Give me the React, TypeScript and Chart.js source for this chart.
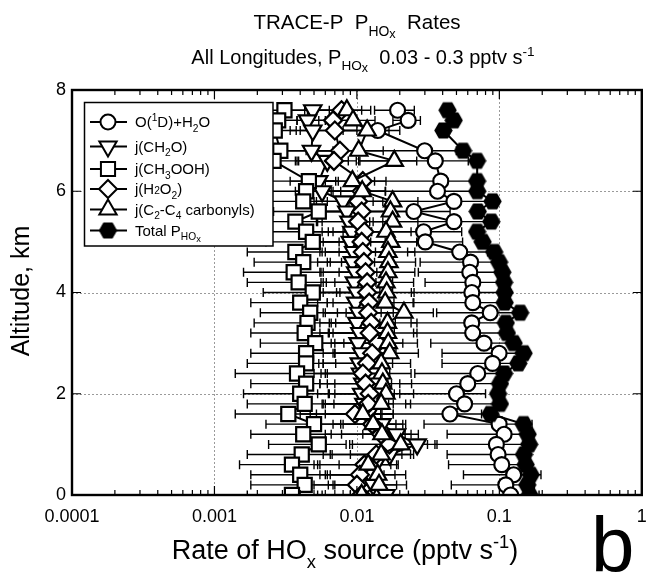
import React, { useEffect, useRef } from 'react';
import { Chart, registerables } from 'chart.js';

Chart.register(...registerables);

const FONT = '"Liberation Sans", Arial, Helvetica, sans-serif';

// Altitude levels (km), top to bottom (no data at 7.0 and 6.4 km)
const ALTITUDE = [7.6, 7.4, 7.2, 6.8, 6.6, 6.2, 6.0, 5.8, 5.6, 5.4, 5.2, 5.0, 4.8, 4.6, 4.4, 4.2, 4.0, 3.8, 3.6, 3.4, 3.2, 3.0, 2.8, 2.6, 2.4, 2.2, 2.0, 1.8, 1.6, 1.4, 1.2, 1.0, 0.8, 0.6, 0.4, 0.2, 0.0];

// O(1D)+H2O
const O1D_H2O = [0.0193, 0.0229, 0.0140, 0.0299, 0.0355, 0.0388, 0.0368, 0.048, 0.0251, 0.048, 0.0294, 0.0302, 0.0527, 0.0628, 0.062, 0.0651, 0.0641, 0.0651, 0.0863, 0.064, 0.065, 0.078, 0.0996, 0.0896, 0.0705, 0.060, 0.050, 0.057, 0.045, 0.0996, 0.108, 0.0953, 0.098, 0.104, 0.126, 0.111, 0.12];
const O1D_H2O_ERR = [0.006, 0.005, 0.006, 0.02, 0.025, 0.03, 0.03, 0.035, 0.02, 0.035, 0.025, 0.025, 0.03, 0.035, 0.035, 0.035, 0.04, 0.04, 0.05, 0.04, 0.04, 0.045, 0.06, 0.05, 0.045, 0.04, 0.03, 0.035, 0.03, 0.07, 0.065, 0.06, 0.055, 0.06, 0.07, 0.065, 0.07];

// j(CH2O)
const J_CH2O = [0.0049, 0.0045, 0.0049, 0.0048, 0.0062, 0.0054, 0.0057, 0.0080, 0.0085, 0.0088, 0.0092, 0.0090, 0.0095, 0.0093, 0.0098, 0.0096, 0.0100, 0.0098, 0.0103, 0.0100, 0.0105, 0.0102, 0.0108, 0.0104, 0.0106, 0.0110, 0.0108, 0.0112, 0.0120, 0.0150, 0.0190, 0.0265, 0.0170, 0.0135, 0.0125, 0.0130, 0.0160];
const J_CH2O_ERR = [0.0015, 0.0015, 0.0015, 0.002, 0.0025, 0.002, 0.002, 0.003, 0.003, 0.0035, 0.0035, 0.0035, 0.004, 0.004, 0.004, 0.004, 0.0045, 0.0045, 0.0045, 0.0045, 0.005, 0.005, 0.005, 0.005, 0.005, 0.0055, 0.0055, 0.0055, 0.006, 0.007, 0.008, 0.010, 0.008, 0.006, 0.006, 0.006, 0.007];

// j(CH3OOH)
const J_CH3OOH = [0.0031, 0.0028, 0.00265, 0.0029, 0.0026, 0.0046, 0.0044, 0.0042, 0.0054, 0.0037, 0.0044, 0.0049, 0.0037, 0.0042, 0.0036, 0.0039, 0.0049, 0.0040, 0.0047, 0.0045, 0.0043, 0.0051, 0.0044, 0.0044, 0.0038, 0.0044, 0.0040, 0.0043, 0.0033, 0.0050, 0.0042, 0.0054, 0.0041, 0.0035, 0.0040, 0.0043, 0.0035];
const J_CH3OOH_ERR = [0.0012, 0.0010, 0.0011, 0.0015, 0.0012, 0.0025, 0.0022, 0.0020, 0.0028, 0.0020, 0.0024, 0.0026, 0.0020, 0.0023, 0.0020, 0.0022, 0.0027, 0.0022, 0.0026, 0.0026, 0.0025, 0.0030, 0.0026, 0.0027, 0.0024, 0.0026, 0.0024, 0.0026, 0.0019, 0.0027, 0.0024, 0.0030, 0.0024, 0.0020, 0.0022, 0.0025, 0.0018];

// j(H2O2)
const J_H2O2 = [0.0078, 0.0068, 0.0070, 0.0076, 0.0069, 0.0110, 0.0108, 0.0102, 0.0108, 0.0102, 0.0113, 0.0108, 0.0110, 0.0112, 0.0115, 0.0118, 0.0118, 0.0122, 0.0120, 0.0126, 0.0123, 0.0140, 0.0128, 0.0118, 0.0110, 0.0115, 0.0123, 0.0120, 0.0097, 0.0128, 0.0148, 0.0169, 0.0137, 0.0113, 0.0105, 0.0100, 0.0107];
const J_H2O2_ERR = [0.003, 0.003, 0.003, 0.003, 0.003, 0.005, 0.005, 0.005, 0.005, 0.005, 0.005, 0.005, 0.005, 0.005, 0.006, 0.006, 0.006, 0.006, 0.006, 0.006, 0.006, 0.007, 0.006, 0.006, 0.006, 0.006, 0.006, 0.006, 0.005, 0.006, 0.007, 0.008, 0.007, 0.006, 0.005, 0.005, 0.005];

// j(C2-C4 carbonyls)
const J_CARB = [0.0085, 0.0094, 0.0118, 0.0103, 0.0183, 0.0093, 0.0109, 0.0178, 0.0172, 0.0178, 0.0160, 0.0173, 0.0165, 0.0168, 0.0165, 0.0160, 0.0162, 0.0158, 0.0214, 0.0164, 0.0164, 0.0166, 0.0170, 0.0148, 0.0150, 0.0152, 0.0160, 0.0148, 0.0110, 0.0130, 0.0150, 0.0203, 0.0148, 0.0120, 0.0140, 0.0143, 0.0108];
const J_CARB_ERR = [0.004, 0.004, 0.005, 0.005, 0.008, 0.004, 0.005, 0.009, 0.009, 0.009, 0.008, 0.009, 0.009, 0.009, 0.009, 0.009, 0.009, 0.009, 0.013, 0.010, 0.010, 0.010, 0.010, 0.009, 0.009, 0.009, 0.009, 0.009, 0.007, 0.008, 0.009, 0.011, 0.009, 0.007, 0.008, 0.008, 0.007];

// Total P(HOx)
const TOTAL = [0.0433, 0.0478, 0.0405, 0.0556, 0.0698, 0.0698, 0.070, 0.0896, 0.0705, 0.0878, 0.0698, 0.0763, 0.092, 0.0996, 0.105, 0.108, 0.109, 0.109, 0.140, 0.111, 0.113, 0.126, 0.148, 0.136, 0.108, 0.101, 0.098, 0.101, 0.0865, 0.148, 0.158, 0.162, 0.149, 0.153, 0.166, 0.157, 0.163];

const X_TICKS = [0.0001, 0.001, 0.01, 0.1, 1];
const X_TICK_LABELS = ['0.0001', '0.001', '0.01', '0.1', '1'];
const X_GRID = [0.001, 0.01, 0.1];
const Y_TICKS = [0, 2, 4, 6, 8];
const Y_TICK_LABELS = ['0', '2', '4', '6', '8'];
const Y_GRID = [2, 4, 6];

type Seg = { t: string; s?: 'sub' | 'sup' | 'subsub' | 'small' };

function segFont(size: number, s?: string) {
  if (!s) return size;
  if (s === 'subsub') return size * 0.62;
  return size * 0.68;
}
function segDy(size: number, s?: string) {
  if (s === 'sub') return size * 0.32;
  if (s === 'subsub') return size * 0.42;
  if (s === 'sup') return -size * 0.4;
  return 0;
}
function drawRich(g: CanvasRenderingContext2D, segs: Seg[], x: number, y: number, size: number, align: 'left' | 'center') {
  let total = 0;
  const widths = segs.map((sg) => {
    g.font = `${segFont(size, sg.s)}px ${FONT}`;
    const w = g.measureText(sg.t).width;
    total += w;
    return w;
  });
  let cx = align === 'center' ? x - total / 2 : x;
  g.textAlign = 'left';
  g.textBaseline = 'alphabetic';
  segs.forEach((sg, i) => {
    g.font = `${segFont(size, sg.s)}px ${FONT}`;
    g.fillText(sg.t, cx, y + segDy(size, sg.s));
    cx += widths[i];
  });
}

function hexPath(g: CanvasRenderingContext2D, cx: number, cy: number, r: number) {
  g.beginPath();
  for (let i = 0; i < 6; i++) {
    const a = (Math.PI / 3) * i;
    const px = cx + r * Math.cos(a);
    const py = cy + r * Math.sin(a);
    if (i === 0) g.moveTo(px, py);
    else g.lineTo(px, py);
  }
  g.closePath();
}

function makeHex(size: number) {
  const c = document.createElement('canvas');
  c.width = size;
  c.height = size;
  const g = c.getContext('2d')!;
  hexPath(g, size / 2, size / 2, size / 2 - 0.3);
  g.fillStyle = '#000';
  g.fill();
  return c;
}

function drawMarker(g: CanvasRenderingContext2D, kind: string, x: number, y: number, hex: HTMLCanvasElement) {
  g.save();
  g.lineWidth = 2;
  g.strokeStyle = '#000';
  g.fillStyle = '#fff';
  g.beginPath();
  if (kind === 'circle') {
    g.arc(x, y, 7.5, 0, Math.PI * 2);
  } else if (kind === 'tri' || kind === 'tridown') {
    const r = 10;
    const sgn = kind === 'tri' ? 1 : -1;
    g.moveTo(x, y - sgn * r);
    g.lineTo(x + r * Math.sin((2 * Math.PI) / 3), y - sgn * r * Math.cos((2 * Math.PI) / 3));
    g.lineTo(x + r * Math.sin((4 * Math.PI) / 3), y - sgn * r * Math.cos((4 * Math.PI) / 3));
    g.closePath();
  } else if (kind === 'rect') {
    const s = 10 * Math.SQRT1_2;
    g.rect(x - s, y - s, 2 * s, 2 * s);
  } else if (kind === 'diamond') {
    const r = 9;
    g.moveTo(x, y - r);
    g.lineTo(x + r, y);
    g.lineTo(x, y + r);
    g.lineTo(x - r, y);
    g.closePath();
  }
  if (kind === 'hex') {
    g.drawImage(hex, x - hex.width / 2, y - hex.height / 2);
  } else {
    g.fill();
    g.stroke();
  }
  g.restore();
}

const LEGEND: { kind: string; label: Seg[]; y: number }[] = [
  { kind: 'circle', y: 122, label: [{ t: 'O(' }, { t: '1', s: 'sup' }, { t: 'D)+H' }, { t: '2', s: 'sub' }, { t: 'O' }] },
  { kind: 'tridown', y: 146.5, label: [{ t: 'j(CH' }, { t: '2', s: 'sub' }, { t: 'O)' }] },
  { kind: 'rect', y: 169, label: [{ t: 'j(CH' }, { t: '3', s: 'sub' }, { t: 'OOH)' }] },
  { kind: 'diamond', y: 189, label: [{ t: 'j(H' }, { t: '2', s: 'small' }, { t: 'O' }, { t: '2', s: 'sub' }, { t: ')' }] },
  { kind: 'tri', y: 209.5, label: [{ t: 'j(C' }, { t: '2', s: 'sub' }, { t: '-C' }, { t: '4', s: 'sub' }, { t: ' carbonyls)' }] },
  { kind: 'hex', y: 230.5, label: [{ t: 'Total P' }, { t: 'HO', s: 'sub' }, { t: 'x', s: 'subsub' }] },
];

export default function App() {
  const ref = useRef<HTMLCanvasElement | null>(null);

  useEffect(() => {
    if (!ref.current) return;
    const hex = makeHex(19);
    const pts = (vals: number[]) => ALTITUDE.map((a, i) => ({ x: vals[i], y: a }));
    const base = {
      showLine: true,
      borderColor: '#000',
      borderWidth: 2,
      pointBackgroundColor: '#fff',
      pointBorderColor: '#000',
      pointBorderWidth: 2.2,
      pointHoverRadius: 0,
    };

    const plugin = {
      id: 'phox',
      beforeDraw(chart: any) {
        const g = chart.ctx;
        g.save();
        g.fillStyle = '#fff';
        g.fillRect(0, 0, chart.width, chart.height);
        g.restore();
      },
      beforeDatasetsDraw(chart: any) {
        const g: CanvasRenderingContext2D = chart.ctx;
        const ca = chart.chartArea;
        const xs = chart.scales.x;
        const ys = chart.scales.y;
        g.save();
        g.strokeStyle = '#9a9a9a';
        g.lineWidth = 1;
        g.setLineDash([2, 2]);
        X_GRID.forEach((v) => {
          const px = Math.round(xs.getPixelForValue(v)) + 0.5;
          g.beginPath();
          g.moveTo(px, ca.top);
          g.lineTo(px, ca.bottom);
          g.stroke();
        });
        Y_GRID.forEach((v) => {
          const py = Math.round(ys.getPixelForValue(v)) + 0.5;
          g.beginPath();
          g.moveTo(ca.left, py);
          g.lineTo(ca.right, py);
          g.stroke();
        });
        g.setLineDash([]);
        g.beginPath();
        g.rect(ca.left, ca.top, ca.right - ca.left, ca.bottom - ca.top);
        g.clip();
        g.strokeStyle = '#000';
        g.lineWidth = 1.4;
        chart.data.datasets.forEach((ds: any) => {
          const err: number[] | undefined = ds.errors;
          if (!err) return;
          ds.data.forEach((p: any, i: number) => {
            const s = err[i];
            if (s == null || p.x == null) return;
            const lo = p.x - s;
            const hi = p.x + s;
            const py = ys.getPixelForValue(p.y);
            const x1 = lo > 0 ? xs.getPixelForValue(lo) : ca.left - 5;
            const x2 = xs.getPixelForValue(hi);
            g.beginPath();
            g.moveTo(x1, py);
            g.lineTo(x2, py);
            if (lo > 0) {
              g.moveTo(x1, py - 4.5);
              g.lineTo(x1, py + 4.5);
            }
            g.moveTo(x2, py - 4.5);
            g.lineTo(x2, py + 4.5);
            g.stroke();
          });
        });
        g.restore();
      },
      afterDatasetsDraw(chart: any) {
        const g: CanvasRenderingContext2D = chart.ctx;
        const ca = chart.chartArea;
        const xs = chart.scales.x;
        const ys = chart.scales.y;
        g.save();
        g.strokeStyle = '#000';
        g.lineWidth = 1.2;
        for (let e = -4; e <= 0; e++) {
          for (let m = 1; m <= 9; m++) {
            const v = m * Math.pow(10, e);
            if (v > 1.0000001) continue;
            const px = xs.getPixelForValue(v);
            const len = m === 1 ? 9 : 5;
            g.beginPath();
            g.moveTo(px, ca.bottom);
            g.lineTo(px, ca.bottom - len);
            g.moveTo(px, ca.top);
            g.lineTo(px, ca.top + len);
            g.stroke();
          }
        }
        Y_TICKS.forEach((v) => {
          const py = ys.getPixelForValue(v);
          g.beginPath();
          g.moveTo(ca.left, py);
          g.lineTo(ca.left + 9, py);
          g.moveTo(ca.right, py);
          g.lineTo(ca.right - 9, py);
          g.stroke();
        });
        g.lineWidth = 2.4;
        g.strokeRect(ca.left, ca.top, ca.right - ca.left, ca.bottom - ca.top);
        g.restore();
      },
      afterDraw(chart: any) {
        const g: CanvasRenderingContext2D = chart.ctx;
        g.save();
        g.fillStyle = '#000';
        drawRich(g, [{ t: 'TRACE-P  P' }, { t: 'HO', s: 'sub' }, { t: 'x', s: 'subsub' }, { t: '  Rates' }], 357, 29, 20.5, 'center');
        drawRich(
          g,
          [{ t: 'All Longitudes, P' }, { t: 'HO', s: 'sub' }, { t: 'x', s: 'subsub' }, { t: '  0.03 - 0.3 pptv s' }, { t: '-1', s: 'sup' }],
          363,
          64,
          20,
          'center'
        );
        drawRich(g, [{ t: 'Rate of HO' }, { t: 'x', s: 'sub' }, { t: ' source (pptv s' }, { t: '-1', s: 'sup' }, { t: ')' }], 345, 559, 27, 'center');
        g.save();
        g.translate(22, 291);
        g.rotate(-Math.PI / 2);
        g.font = `25px ${FONT}`;
        g.textAlign = 'center';
        g.textBaseline = 'middle';
        g.fillText('Altitude, km', 0, 0);
        g.restore();
        g.font = `78px ${FONT}`;
        g.textAlign = 'left';
        g.textBaseline = 'alphabetic';
        g.fillText('b', 591, 572);
        g.fillStyle = '#fff';
        g.fillRect(84, 102, 189, 144);
        g.strokeStyle = '#000';
        g.lineWidth = 1.5;
        g.strokeRect(84.5, 102.5, 188.5, 143.5);
        LEGEND.forEach((it) => {
          g.strokeStyle = '#000';
          g.lineWidth = 2;
          g.beginPath();
          g.moveTo(90, it.y);
          g.lineTo(127, it.y);
          g.stroke();
          drawMarker(g, it.kind, 108, it.y, hex);
          g.fillStyle = '#000';
          drawRich(g, it.label, 135, it.y + 5, 15, 'left');
        });
        g.restore();
      },
    };

    const chart = new Chart(ref.current, {
      type: 'scatter',
      data: {
        datasets: [
          { ...base, label: 'O(1D)+H2O', data: pts(O1D_H2O), errors: O1D_H2O_ERR, pointStyle: 'circle', pointRadius: 7.5, order: 5 } as any,
          { ...base, label: 'j(CH2O)', data: pts(J_CH2O), errors: J_CH2O_ERR, pointStyle: 'triangle', pointRotation: 180, pointRadius: 10, order: 4 } as any,
          { ...base, label: 'j(CH3OOH)', data: pts(J_CH3OOH), errors: J_CH3OOH_ERR, pointStyle: 'rect', pointRadius: 10, order: 3 } as any,
          { ...base, label: 'j(H2O2)', data: pts(J_H2O2), errors: J_H2O2_ERR, pointStyle: 'rectRot', pointRadius: 9, order: 2 } as any,
          { ...base, label: 'j(C2-C4 carbonyls)', data: pts(J_CARB), errors: J_CARB_ERR, pointStyle: 'triangle', pointRadius: 10, order: 1 } as any,
          { ...base, label: 'Total PHOx', data: pts(TOTAL), pointStyle: hex, pointRadius: 9, pointBackgroundColor: '#000', order: 0 } as any,
        ],
      },
      options: {
        animation: false,
        responsive: false,
        devicePixelRatio: 1,
        layout: { padding: { top: 90, right: 2, bottom: 0, left: 0 } },
        plugins: { legend: { display: false }, tooltip: { enabled: false }, title: { display: false } },
        events: [],
        scales: {
          x: {
            type: 'logarithmic',
            min: 0.0001,
            max: 1,
            position: 'bottom',
            grid: { display: false, drawTicks: false },
            border: { display: false },
            afterBuildTicks: (scale: any) => {
              scale.ticks = X_TICKS.map((v) => ({ value: v, major: true }));
            },
            afterFit: (scale: any) => {
              scale.height = 79;
              scale.paddingLeft = 0;
              scale.paddingRight = 0;
            },
            ticks: {
              autoSkip: false,
              maxRotation: 0,
              padding: 11,
              color: '#000',
              font: { family: FONT, size: 18 },
              callback: (v: any) => {
                const i = X_TICKS.findIndex((t) => Math.abs(Math.log10(t) - Math.log10(Number(v))) < 1e-6);
                return i >= 0 ? X_TICK_LABELS[i] : '';
              },
            },
          },
          y: {
            type: 'linear',
            min: 0,
            max: 8,
            grid: { display: false, drawTicks: false },
            border: { display: false },
            afterBuildTicks: (scale: any) => {
              scale.ticks = Y_TICKS.map((v) => ({ value: v }));
            },
            afterFit: (scale: any) => {
              scale.width = 72;
              scale.paddingTop = 0;
              scale.paddingBottom = 0;
            },
            ticks: {
              padding: 6,
              color: '#000',
              font: { family: FONT, size: 18 },
              callback: (v: any) => {
                const i = Y_TICKS.indexOf(Number(v));
                return i >= 0 ? Y_TICK_LABELS[i] : '';
              },
            },
          },
        },
      } as any,
      plugins: [plugin],
    });
    return () => chart.destroy();
  }, []);

  return (
    <div style={{ position: 'absolute', left: 0, top: 0, width: 654, height: 574, background: '#fff' }}>
      <canvas ref={ref} width={654} height={574} style={{ width: 654, height: 574, display: 'block' }} />
    </div>
  );
}
